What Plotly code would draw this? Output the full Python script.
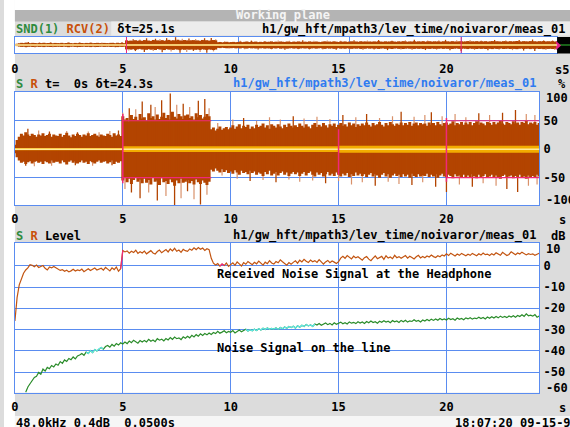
import numpy as np
import plotly.graph_objects as go

W, H = 570, 427
FONT = "DejaVu Sans Mono"
WEIGHT = 600

BLUE = "#5a8cf0"
PINK = "#f0287a"
ORANGE_DARK = "#b34400"
ORANGE_LIGHT = "#d9916a"
YELLOW = "#f2ac00"
PALE = "#ffe99a"
GREEN = "#2a8c2a"
R_LINE = "#c25410"
CYAN = "#5ee8e8"
TXT_GREEN = "#2e8b3e"
TXT_ORANGE = "#c8500a"
PATH_BLUE = "#2f7bf0"


def px(x):
    return x / W


def py(y):
    return 1 - y / H


# ---------------- recording data ----------------
# block times (s), one block every 0.1 s
t = np.round(np.arange(244) * 0.1, 1)

# received signal, peak envelope per block (% full scale)
rcv_hi = [
    8, 16, 22, 27, 24, 30, 26, 23, 27, 25,
    22, 26, 24, 28, 23, 25, 27, 22, 26, 24,
    23, 27, 22, 25, 29, 24, 21, 26, 23, 27,
    25, 22, 26, 24, 28, 23, 25, 27, 24, 22,
    26, 24, 23, 27, 25, 22, 28, 24, 26, 23,
    58, 52, 55, 49, 60, 53, 57, 51, 62, 54,
    56, 50, 63, 55, 58, 52, 61, 53, 57, 64,
    55, 60, 52, 66, 57, 54, 62, 58, 53, 59,
    61, 55, 58, 52, 63, 56, 60, 54, 57, 62,
    58, 35, 38, 33, 36, 40, 34, 37, 39, 35,
    38, 42, 36, 40, 44, 37, 41, 39, 43, 36,
    40, 37, 43, 39, 41, 45, 38, 42, 36, 44,
    41, 38, 44, 40, 37, 43, 39, 45, 41, 38,
    42, 39, 45, 41, 38, 44, 40, 37, 43, 46,
    39, 43, 40, 46, 42, 38, 44, 41, 45, 39,
    43, 46, 41, 44, 40, 47, 42, 45, 39, 44,
    41, 45, 42, 47, 43, 40, 46, 42, 44, 48,
    43, 40, 46, 42, 48, 44, 41, 45, 43, 47,
    42, 46, 43, 48, 41, 45, 47, 42, 46, 44,
    45, 41, 47, 43, 46, 42, 48, 44, 41, 46,
    47, 43, 45, 49, 42, 46, 44, 48, 43, 47,
    44, 48, 42, 46, 49, 43, 47, 45, 42, 48,
    46, 43, 48, 44, 47, 50, 45, 43, 48, 46,
    44, 49, 45, 47, 43, 48, 46, 50, 44, 47,
    45, 48, 43, 46,
]
rcv_lo = [
    -7, -14, -20, -24, -22, -26, -23, -21, -25, -22,
    -21, -24, -22, -26, -21, -23, -25, -20, -24, -22,
    -22, -25, -20, -23, -27, -22, -20, -24, -21, -25,
    -23, -20, -24, -22, -26, -21, -23, -25, -22, -20,
    -24, -22, -21, -25, -23, -20, -26, -22, -24, -21,
    -55, -50, -58, -52, -61, -54, -49, -57, -53, -60,
    -52, -59, -54, -62, -50, -57, -55, -63, -51, -58,
    -56, -61, -53, -58, -64, -55, -60, -52, -59, -57,
    -54, -60, -56, -62, -53, -58, -61, -55, -59, -63,
    -57, -36, -39, -34, -38, -41, -35, -40, -37, -42,
    -39, -43, -37, -41, -45, -38, -42, -40, -44, -38,
    -42, -39, -45, -41, -43, -47, -40, -44, -38, -46,
    -43, -40, -46, -42, -39, -45, -41, -47, -43, -40,
    -44, -41, -47, -43, -40, -46, -42, -39, -45, -48,
    -41, -45, -42, -48, -44, -40, -46, -43, -47, -41,
    -45, -48, -43, -46, -42, -49, -44, -47, -41, -46,
    -43, -47, -44, -49, -45, -42, -48, -44, -46, -50,
    -45, -42, -48, -44, -50, -46, -43, -47, -45, -49,
    -44, -48, -45, -50, -43, -47, -49, -44, -48, -46,
    -47, -43, -49, -45, -48, -44, -50, -46, -43, -48,
    -49, -45, -47, -51, -44, -48, -46, -50, -45, -49,
    -46, -50, -44, -48, -51, -45, -49, -47, -44, -50,
    -48, -45, -50, -46, -49, -52, -47, -45, -50, -48,
    -46, -51, -47, -49, -45, -50, -48, -52, -46, -49,
    -47, -50, -45, -48,
]

# strongest single peaks of the received signal (s, %)
spike_dark_t = [0.6, 1.6, 2.9, 4.8, 0.5, 2.8, 4.5,
                5.3, 5.9, 6.3, 6.8, 7.2, 7.8, 8.5, 8.8,
                5.4, 5.8, 6.6, 7.4, 8.0, 8.6,
                10.6, 12.9, 15.2, 16.3, 17.9, 19.3, 21.5, 22.6, 23.2,
                10.9, 12.1, 14.4, 16.7, 18.4, 19.5, 20.0, 21.2, 22.8, 23.3]
spike_dark_v = [36, 31, 30, 33, -29, -28, -28,
                72, 84, 78, 86, 98, 80, 85, 88,
                -76, -86, -90, -98, -74, -97,
                55, 58, 60, 62, 66, 65, 63, 64, 69,
                -56, -58, -60, -64, -63, -66, -75, -66, -70, -75]
spike_light_t = [1.1, 2.4, 3.4, 3.9, 4.4, 0.9, 1.7, 3.6,
                 5.0, 5.6, 6.5, 7.5, 8.1, 9.0, 5.1, 6.2, 7.0, 7.7, 8.3, 8.9,
                 9.4, 10.1, 11.2, 11.8, 12.3, 13.4, 14.0, 14.6, 15.8, 16.9,
                 17.5, 18.5, 19.0, 19.8, 20.4, 20.9, 22.0, 23.7, 24.1,
                 9.6, 10.3, 11.5, 12.7, 13.2, 13.8, 15.0, 15.6, 16.1, 17.3,
                 17.8, 18.9, 20.6, 21.7, 22.3, 23.8, 24.2]
spike_light_v = [33, 32, 31, 30, 32, -30, -29, -29,
                 64, 70, 74, 78, 74, 72, -70, -76, -82, -86, -88, -80,
                 46, 52, 50, 56, 52, 54, 57, 53, 56, 55,
                 58, 57, 60, 58, 62, 56, 60, 62, 60,
                 -46, -52, -54, -53, -57, -55, -56, -62, -58, -57,
                 -61, -58, -62, -60, -64, -64, -62]

# send signal amplitude, one value per second (%)
send_t = [0, 1, 2, 3, 4, 5, 6, 7, 8, 9, 10, 11, 12, 13, 14, 15, 16, 17,
          18, 19, 20, 21, 22, 23, 24, 24.3]
send_amp = [2, 2, 2, 2, 2, 5, 5, 5, 5, 5, 5, 5, 5, 5, 5, 6, 6, 6,
            6, 6, 6, 6, 6, 6, 6, 6]

# levels (dB)
rcv_level = [
    -26, -15, -9, -6, -3.5, -2, -1, 0.5, 0.2, -0.5,
    0.3, -0.8, -0.2, 0.1, -1.2, -2.0, -0.6, -1.0, -0.3, -0.9,
    -1.5, -2.2, -1.8, -2.6, -2.1, -2.9, -2.4, -1.7, -2.5, -2.0,
    -2.3, -1.6, -2.8, -2.0, -1.4, -2.2, -1.8, -1.1, -2.0, -1.5,
    -1.2, -2.1, -0.8, -1.6, -2.4, -1.0, -1.8, -0.6, -2.6, -1.4,
    7.2, 6.5, 7.0, 5.9, 6.8, 6.2, 7.3, 5.8, 6.6, 6.0,
    6.9, 5.6, 6.4, 7.1, 6.0, 5.5, 6.7, 7.4, 6.1, 6.8,
    7.6, 6.5, 7.9, 7.0, 8.2, 6.8, 7.4, 6.3, 7.7, 7.1,
    6.8, 7.9, 7.3, 8.4, 7.6, 8.6, 7.8, 8.3, 7.2, 8.0,
    7.6, 3.5, 1.2, 0.4, 1.0, -0.2, 0.8, 0.1, 1.3, -0.3,
    0.6, 1.4, 0.2, 1.8, 0.9, -0.1, 1.5, 0.7, 2.0, 1.1,
    0.5, 1.6, 0.9, 2.2, 1.2, 0.3, 1.7, 1.0, 2.4, 1.3,
    0.8, 2.0, 1.4, 2.8, 1.9, 0.9, 0.3, 1.5, 0.7, 1.6,
    2.3, 1.2, 2.6, 1.8, 3.0, 2.1, 1.5, 2.7, 1.9, 2.4,
    1.6, 2.9, 2.0, 0.8, 1.8, 2.5, 1.4, 2.2, 1.7, 1.1,
    1.9, 3.6, 4.4, 3.5, 4.8, 3.9, 3.2, 4.5, 3.7, 4.2,
    3.4, 2.6, 3.8, 4.3, 3.1, 2.4, 3.6, 4.6, 3.3, 3.9,
    4.4, 3.0, 4.7, 3.6, 4.1, 3.3, 4.9, 3.8, 4.3, 3.5,
    4.0, 4.8, 3.6, 4.5, 3.9, 3.2, 4.2, 4.9, 3.7, 4.4,
    3.8, 4.6, 4.1, 5.0, 4.3, 3.9, 4.7, 4.2, 5.1, 4.6,
    5.6, 4.8, 5.9, 5.2, 4.6, 5.5, 4.9, 5.8, 5.1, 4.7,
    5.4, 4.9, 5.8, 5.3, 4.7, 5.6, 5.0, 6.0, 5.2, 5.5,
    4.8, 5.7, 5.1, 6.1, 5.4, 4.9, 6.3, 5.6, 4.8, 5.3,
    6.6, 5.9, 5.2, 6.0, 5.5, 6.4, 5.8, 5.1, 5.7, 5.3,
    5.6, 4.9, 5.4, 5.9,
]
snd_level = [
    None, None, None, None, None, -59.5, -57.0, -55.5, -54.0, -52.5,
    -52.0, -50.2, -51.0, -48.6, -49.5, -47.8, -48.4, -46.9, -47.6, -46.2,
    -46.8, -45.1, -45.9, -44.3, -45.0, -43.6, -44.2, -42.9, -43.8, -42.4,
    -42.0, -41.3, -42.1, -40.6, -41.2, -39.9, -40.8, -39.4, -40.1, -39.0,
    -38.4, -39.2, -38.0, -37.5, -38.3, -37.0, -37.8, -36.6, -37.3, -36.2,
    -36.8, -35.9, -36.6, -35.4, -36.2, -35.0, -35.8, -36.4, -35.2, -35.9,
    -35.1, -35.8, -34.6, -35.5, -34.9, -35.7, -34.3, -35.0, -34.5, -35.3,
    -34.2, -34.9, -33.8, -34.6, -33.5, -34.3, -33.9, -34.7, -33.4, -34.1,
    -33.2, -33.9, -32.7, -33.5, -32.4, -33.1, -32.0, -32.8, -31.9, -32.5,
    -31.6, -32.3, -31.4, -31.9, -30.8, -31.7, -31.2, -30.6, -31.5, -30.9,
    -31.3, -30.5, -31.6, -30.8, -30.2, -31.1, -30.4, -29.9, -30.7, -30.1,
    -30.6, -29.8, -30.4, -29.6, -30.2, -29.4, -30.0, -29.3, -29.9, -29.5,
    -29.8, -29.2, -29.9, -29.0, -29.6, -28.8, -29.4, -28.6, -29.1, -28.4,
    -29.3, -28.2, -28.9, -28.0, -28.6, -27.6, -28.3, -27.8, -28.5, -27.4,
    -27.9, -27.2, -28.0, -27.4, -26.9, -27.7, -27.1, -27.8, -26.8, -27.5,
    -27.1, -26.5, -27.3, -26.8, -27.4, -26.4, -27.0, -26.6, -27.2, -26.3,
    -26.9, -26.4, -27.1, -26.2, -26.8, -26.0, -26.7, -26.3, -27.0, -26.1,
    -26.6, -25.9, -26.5, -26.1, -26.8, -25.8, -26.4, -26.0, -26.7, -25.7,
    -26.3, -25.6, -26.5, -25.9, -26.2, -25.4, -26.1, -25.7, -26.4, -25.5,
    -26.0, -25.3, -25.9, -25.1, -25.7, -25.0, -25.6, -24.8, -25.4, -25.0,
    -25.5, -24.7, -25.3, -24.9, -25.6, -24.6, -25.2, -24.8, -25.4, -24.5,
    -25.0, -24.4, -25.1, -24.6, -24.9, -24.2, -24.8, -24.3, -25.0, -24.1,
    -24.7, -24.0, -24.6, -23.9, -24.5, -23.7, -24.3, -23.8, -24.4, -23.6,
    -24.1, -23.5, -24.2, -23.4, -23.9, -23.1, -23.8, -22.6, -23.5, -23.2,
    -23.7, -23.0, -24.2, -23.6,
]

# marked time ranges (s)
snd_marks = [(3.3, 4.1), (10.7, 13.9)]
rcv_marks = [(4.9, 5.0), (9.5, 9.7)]
segment_edges = [5.0, 20.0]
# range cursors in the signal view: (t, low %, high %) and level bands
cursor_t = [5.0, 15.0, 20.0]
cursor_lo = [-60, -45, -57]
cursor_hi = [62, 35, 55]
band_spans = [(5.0, 9.1), (20.0, 24.3)]
band_level = 50

x_ticks = [0, 5, 10, 15, 20]
sig_ticks = [50, 0, -50]
lev_ticks = [0, -10, -20, -30, -40, -50]

T_END = float(t[-1])


def segs(xs, lo, hi):
    X, Y = [], []
    for x, a, b in zip(xs, lo, hi):
        X += [x, x, None]
        Y += [a, b, None]
    return X, Y


fig = go.Figure()


def add_signal(xa, ya, width):
    # light single peaks, then strong peaks, body, send band on top
    sx, sy = segs(spike_light_t, [0] * len(spike_light_t), spike_light_v)
    fig.add_trace(go.Scatter(x=sx, y=sy, mode="lines", xaxis=xa, yaxis=ya,
                             line=dict(color=ORANGE_LIGHT, width=1.2),
                             hoverinfo="skip", showlegend=False))
    sx, sy = segs(spike_dark_t, [0] * len(spike_dark_t), spike_dark_v)
    fig.add_trace(go.Scatter(x=sx, y=sy, mode="lines", xaxis=xa, yaxis=ya,
                             line=dict(color=ORANGE_DARK, width=1.3),
                             hoverinfo="skip", showlegend=False))
    bx, by = segs(t, rcv_lo, rcv_hi)
    fig.add_trace(go.Scatter(x=bx, y=by, mode="lines", xaxis=xa, yaxis=ya,
                             line=dict(color=ORANGE_DARK, width=width),
                             hoverinfo="skip", showlegend=False))
    fig.add_trace(go.Scatter(x=send_t, y=send_amp, mode="lines", xaxis=xa, yaxis=ya,
                             line=dict(color=YELLOW, width=0, shape="hv"),
                             hoverinfo="skip", showlegend=False))
    fig.add_trace(go.Scatter(x=send_t, y=[-a for a in send_amp], mode="lines",
                             xaxis=xa, yaxis=ya, fill="tonexty", fillcolor=YELLOW,
                             line=dict(color=YELLOW, width=0, shape="hv"),
                             hoverinfo="skip", showlegend=False))


add_signal("x", "y", 3.0)
add_signal("x2", "y2", 3.0)

# level curves
fig.add_trace(go.Scatter(x=t, y=rcv_level, mode="lines", xaxis="x3", yaxis="y3",
                         line=dict(color=R_LINE, width=1.2),
                         hoverinfo="skip", showlegend=False))
fig.add_trace(go.Scatter(x=t, y=snd_level, mode="lines", xaxis="x3", yaxis="y3",
                         line=dict(color=GREEN, width=1.2),
                         hoverinfo="skip", showlegend=False))
snd_arr = np.array([np.nan if v is None else v for v in snd_level])
rcv_arr = np.array(rcv_level, dtype=float)
for a, b in snd_marks:
    m = (t >= a) & (t <= b)
    fig.add_trace(go.Scatter(x=t[m], y=snd_arr[m], mode="lines", xaxis="x3", yaxis="y3",
                             line=dict(color=CYAN, width=1.2),
                             hoverinfo="skip", showlegend=False))
for a, b in rcv_marks:
    m = (t >= a) & (t <= b)
    fig.add_trace(go.Scatter(x=t[m], y=rcv_arr[m], mode="lines", xaxis="x3", yaxis="y3",
                             line=dict(color=PINK, width=1.2),
                             hoverinfo="skip", showlegend=False))

# carrier for the time scale under the overview strip
fig.add_trace(go.Scatter(x=x_ticks, y=[0] * len(x_ticks), mode="markers",
                         xaxis="x4", yaxis="y4", marker=dict(opacity=0),
                         hoverinfo="skip", showlegend=False))

tickfont = dict(family=FONT, size=12, color="black", weight=WEIGHT)
frame = dict(showline=True, mirror=True, linecolor=BLUE, linewidth=1,
             zeroline=False, ticks="", gridcolor=BLUE, gridwidth=1)

panel_x = [px(11), px(539)]
fig.update_layout(
    width=W, height=H,
    margin=dict(l=0, r=0, t=0, b=0),
    paper_bgcolor="#dcdcdc",
    plot_bgcolor="rgba(0,0,0,0)",
    showlegend=False,
    xaxis=dict(domain=[px(11), px(557)], range=[0, T_END], anchor="y",
               tickvals=x_ticks[1:], showgrid=True, showticklabels=False, **frame),
    yaxis=dict(domain=[py(53), py(37)], range=[-100, 100], anchor="x",
               showgrid=False, showticklabels=False, **frame),
    xaxis2=dict(domain=panel_x, range=[0, T_END], anchor="y2",
                tickvals=x_ticks, ticktext=[str(v) for v in x_ticks],
                showgrid=True, tickfont=tickfont, ticklabelstandoff=3, **frame),
    yaxis2=dict(domain=[py(205), py(92)], range=[-98, 100.5], anchor="x2", side="right",
                tickvals=sig_ticks, ticktext=[str(v) for v in sig_ticks],
                showgrid=True, tickfont=tickfont, ticklabelstandoff=1, **frame),
    xaxis3=dict(domain=panel_x, range=[0, T_END], anchor="y3",
                tickvals=x_ticks, ticktext=[str(v) for v in x_ticks],
                showgrid=True, tickfont=tickfont, ticklabelstandoff=3, **frame),
    yaxis3=dict(domain=[py(392.7), py(243)], range=[-59.7, 10.7], anchor="x3", side="right",
                tickvals=lev_ticks, ticktext=[str(v) for v in lev_ticks],
                showgrid=True, tickfont=tickfont, ticklabelstandoff=1, **frame),
    xaxis4=dict(domain=panel_x, range=[0, T_END], anchor="y4",
                tickvals=x_ticks, ticktext=[str(v) for v in x_ticks],
                showgrid=False, showline=False, zeroline=False, ticks="",
                tickfont=tickfont),
    yaxis4=dict(domain=[py(60), py(59)], anchor="x4", visible=False, range=[-1, 1]),
)

shapes = []


def rect_px(x0, y0, x1, y1, color, layer="below"):
    shapes.append(dict(type="rect", xref="paper", yref="paper",
                       x0=px(x0), x1=px(x1), y0=py(y1), y1=py(y0),
                       fillcolor=color, line=dict(width=0), layer=layer))


# page frame
rect_px(0, 0, 11, H, "white")
rect_px(11, 0, W, 10, "white")
rect_px(11, 416, W, H, "#f6f6f6")
rect_px(11, 10, W, 21.5, "#b4b4b4")
rect_px(108, 21.5, W, 35.5, "#ececec")

# plot backgrounds
for xa, ya in (("x", "y"), ("x2", "y2"), ("x3", "y3")):
    shapes.append(dict(type="rect", xref=xa + " domain", yref=ya + " domain",
                       x0=0, x1=1, y0=0, y1=1, fillcolor="white",
                       line=dict(width=0), layer="below"))

# end of record in the overview strip
rect_px(557, 37, W, 53.5, "black", layer="above")
shapes.append(dict(type="line", xref="paper", yref="y", x0=px(557), x1=1,
                   y0=0, y1=0, line=dict(color="#30c030", width=1), layer="above"))
shapes.append(dict(type="path", xref="paper", yref="paper",
                   path="M {} {} L {} {} L {} {} Z".format(px(556), py(41), px(561), py(45.5),
                                                           px(556), py(50)),
                   fillcolor="#e0208a", line=dict(width=0), layer="above"))

# send centre line
for xa, ya in (("x", "y"), ("x2", "y2")):
    shapes.append(dict(type="line", xref=xa + " domain", yref=ya, x0=0, x1=1,
                       y0=0, y1=0, line=dict(color=PALE, width=1.5), layer="above"))

# segment edges in the overview strip
for te in segment_edges:
    shapes.append(dict(type="line", xref="x", yref="y domain", x0=te, x1=te,
                       y0=0, y1=1, line=dict(color=PINK, width=1), layer="above"))

# cursors in the signal view
for tc, lo, hi in zip(cursor_t, cursor_lo, cursor_hi):
    shapes.append(dict(type="line", xref="x2", yref="y2", x0=tc, x1=tc,
                       y0=lo, y1=hi, line=dict(color=PINK, width=1.5), layer="above"))
for a, b in band_spans:
    for lv in (band_level, -band_level):
        shapes.append(dict(type="line", xref="x2", yref="y2", x0=a, x1=b,
                           y0=lv, y1=lv, line=dict(color=PINK, width=1.2), layer="above"))

fig.update_layout(shapes=shapes)

ann = []


def label(x, y, text, color="black", anchor="left"):
    ann.append(dict(x=px(x), y=py(y), xref="paper", yref="paper", text=text,
                    showarrow=False, xanchor=anchor, yanchor="middle", borderpad=0,
                    font=dict(family=FONT, size=12, color=color, weight=WEIGHT)))


def sp(c, s):
    return "<span style='color:{}'>{}</span>".format(c, s)


NB = "\u00a0"
PATH = "h1/gw_hft/mpath3/lev_time/noivaror/meas_01"

label(281, 15, "Working plane", color="#f4f4f4", anchor="center")
label(11, 29.5, sp(TXT_GREEN, "SND(1)") + NB + sp(TXT_ORANGE, "RCV(2)") + NB + "δt=25.1s")
label(566, 29.5, PATH, anchor="right")
label(561.5, 70, "s5", anchor="center")

label(11, 83.5, sp(TXT_GREEN, "S") + NB + sp(TXT_ORANGE, "R") + NB + "t=" + NB + NB
      + "0s" + NB + "δt=24.3s")
label(537, 83.5, PATH, color=PATH_BLUE, anchor="right")
label(562, 84, "%", anchor="center")
label(562, 220, "s", anchor="center")

label(11, 236, sp(TXT_GREEN, "S") + NB + sp(TXT_ORANGE, "R") + NB + "Level")
label(537, 236, PATH, anchor="right")
label(566, 236, "dB", anchor="right")
label(562, 408, "s", anchor="center")

label(214, 274, "Received Noise Signal at the Headphone")
label(214, 348, "Noise Signal on the line")

label(11, 423, "48.0kHz" + NB + "0.4dB" + NB + NB + "0.0500s")
label(453, 423, "18:07:20" + NB + "09-15-99")

# end labels of the value scales sit just inside the frame
for ypos, val in ((97.7, 100), (200, -100), (249, 10), (387.7, -60)):
    label(544.5, ypos, str(val))

fig.update_layout(annotations=ann)
fig.write_html("out.html")
